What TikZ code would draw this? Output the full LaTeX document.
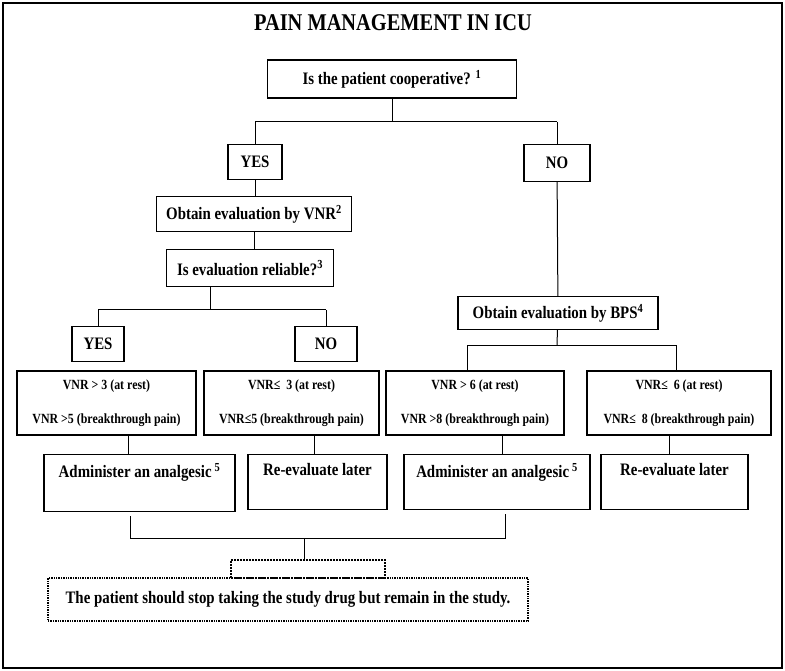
\documentclass[tikz,border=0pt]{standalone}
\usepackage{fontspec}
\setmainfont[FakeStretch=0.85]{Liberation Serif}
\usetikzlibrary{positioning}
\tikzset{
  box/.style={draw, line width=1.4pt, inner sep=0pt, font=\bfseries\fontsize{17.5}{19}\selectfont},
  crit/.style={draw, line width=1.4pt, inner sep=0pt, align=center, font=\bfseries\fontsize{14}{34}\selectfont},
  act/.style={anchor=north, font=\bfseries\fontsize{17.5}{19}\selectfont},
  link/.style={line width=1pt}
}
\begin{document}
\begin{tikzpicture}[x=1pt,y=-1pt]
\useasboundingbox (0,0) rectangle (785,671);
\draw[line width=1.6pt] (3,3) rectangle (782,668);
% nodes %
\node[font=\bfseries\fontsize{24}{26}\selectfont] (title) at (393,23) {PAIN MANAGEMENT IN ICU};
\node[box, minimum width=249, minimum height=38] (coop) at (392,79) {Is the patient cooperative? \textsuperscript{1}};
\node[box, minimum width=54, minimum height=35] (yes) at (255,162) {YES};
\node[box, minimum width=66, minimum height=37] (no) at (557,163) {NO};
\node[box, minimum width=195, minimum height=35] (vnr) at (254,214) {Obtain evaluation by VNR\textsuperscript{2}};
\node[box, minimum width=167, minimum height=37] (rel) at (250,268) {Is evaluation reliable?\textsuperscript{3}};
\node[box, minimum width=52, minimum height=35] (yes2) at (98,344) {YES};
\node[box, minimum width=62, minimum height=35] (no2) at (326,344) {NO};
\node[box, minimum width=200, minimum height=33] (bps) at (558,313) {Obtain evaluation by BPS\textsuperscript{4}};
\node[crit, minimum width=179, minimum height=64] (ca) at (106.5,403) {VNR > 3 (at rest)\\VNR >5 (breakthrough pain)};
\node[crit, minimum width=175, minimum height=64] (cb) at (291.5,403) {VNR≤\ \ 3 (at rest)\\VNR≤5 (breakthrough pain)};
\node[crit, minimum width=178, minimum height=64] (cc) at (475,403) {VNR > 6 (at rest)\\VNR >8 (breakthrough pain)};
\node[crit, minimum width=184, minimum height=64] (cd) at (679,403) {VNR≤\ \ 6 (at rest)\\VNR≤\ \ 8 (breakthrough pain)};
\node[draw, line width=1.4pt, minimum width=191, minimum height=57, anchor=north] (aa) at (139.5,454) {};
\node[draw, line width=1.4pt, minimum width=139, minimum height=55, anchor=north] (ab) at (317.5,454) {};
\node[draw, line width=1.4pt, minimum width=186, minimum height=55, anchor=north] (ac) at (497,454) {};
\node[draw, line width=1.4pt, minimum width=147, minimum height=55, anchor=north] (ad) at (674.5,454) {};
\node[act] (aat) at ([yshift=-6]aa.north) {Administer an analgesic\,\textsuperscript{5}};
\node[act] (abt) at ([yshift=-6]ab.north) {Re-evaluate later};
\node[act] (act) at ([yshift=-6]ac.north) {Administer an analgesic\,\textsuperscript{5}};
\node[act] (adt) at ([yshift=-6]ad.north) {Re-evaluate later};
\node[draw, densely dotted, line width=2pt, minimum width=154, minimum height=18] (tab) at (308,569) {};
\node[box, densely dotted, line width=2pt, minimum width=480, minimum height=43] (stop) at (288,599.5) {The patient should stop taking the study drug but remain in the study.};
% edges %
\coordinate (j1) at (392,122);
\coordinate (j2) at (210,310);
\coordinate (j3) at (557,345);
\coordinate (j4) at (304,538);
\draw[link] (coop) -- (j1);
\draw[link] (yes |- j1) -- (no |- j1);
\draw[link] (yes |- j1) -- (yes);
\draw[link] (no |- j1) -- (no);
\draw[link] (yes) -- (yes |- vnr.north);
\draw[link] (vnr) -- (vnr |- rel.north);
\draw[link] (rel.south -| j2) -- (j2);
\draw[link] (yes2 |- j2) -- (no2 |- j2);
\draw[link] (yes2 |- j2) -- (yes2);
\draw[link] (no2 |- j2) -- (no2);
\draw[link] (no) -- (bps);
\draw[link] (bps) -- (j3);
\draw[link] (467,345) -- (676,345);
\draw[link] (467,345) -- (467,371);
\draw[link] (676,345) -- (676,371);
\draw[link] (128,435) -- (aa.north -| 128,0);
\draw[link] (cb.south -| 314,0) -- (ab.north -| 314,0);
\draw[link] (cc.south -| 502,0) -- (ac.north -| 502,0);
\draw[link] (cd.south -| 669,0) -- (ad.north -| 669,0);
\draw[link] (130,516) -- (130,538) -- (505,538) -- (505,514);
\draw[link] (j4) -- (tab.north -| j4);
\end{tikzpicture}
\end{document}
